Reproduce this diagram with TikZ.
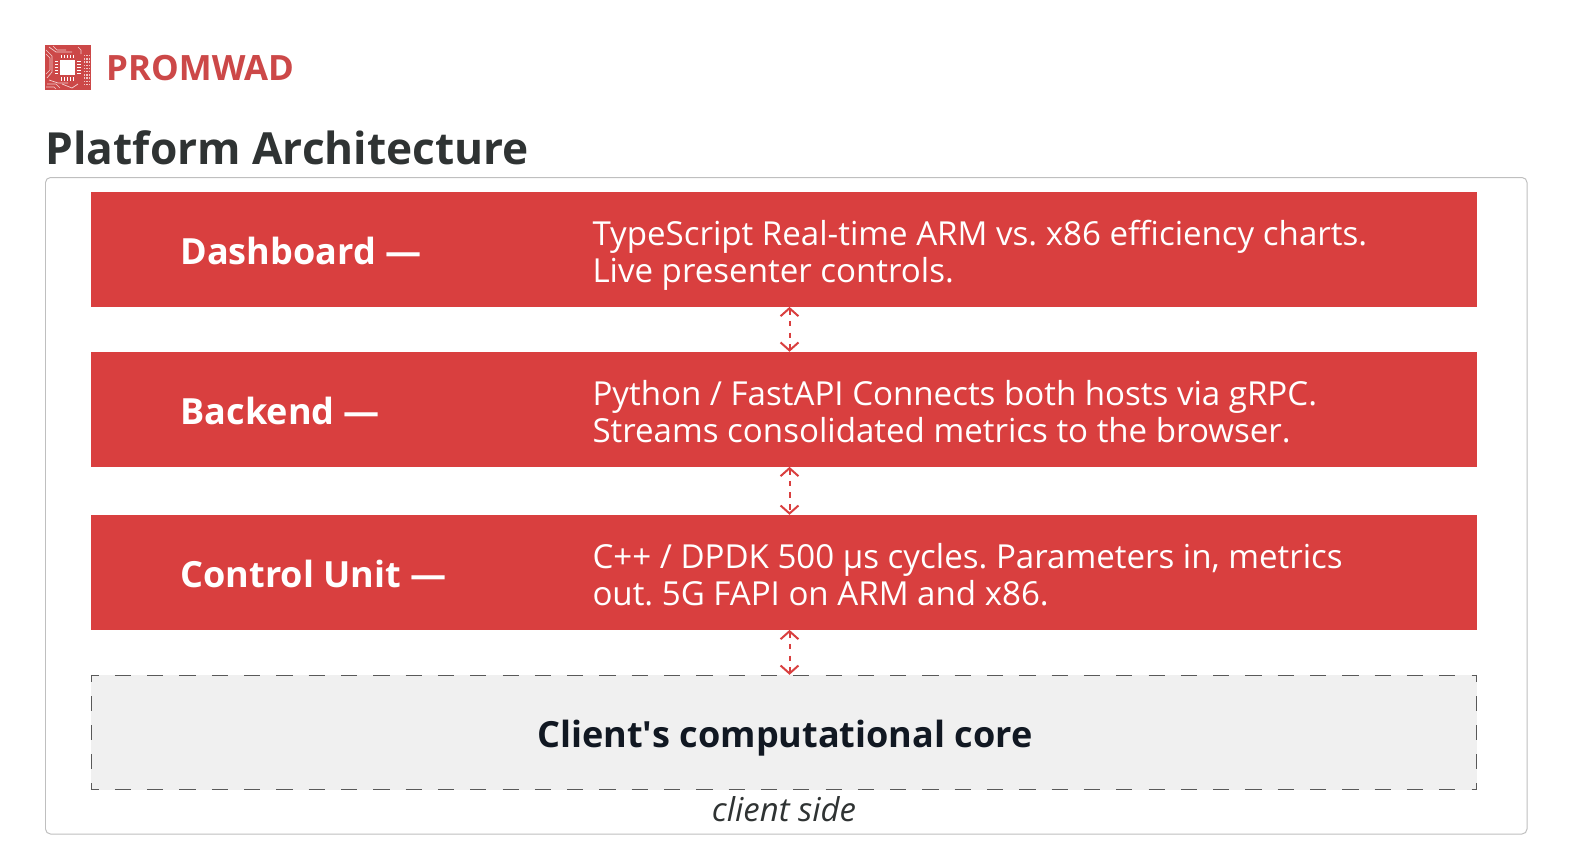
\documentclass[tikz,border=0pt]{standalone}
\usepackage{fontspec}
\setmainfont{Open Sans}
\usetikzlibrary{calc}
\usetikzlibrary{arrows, arrows.meta}

\definecolor{barred}{HTML}{D93F3F}
\definecolor{logored}{HTML}{CC4848}
\definecolor{inkdark}{HTML}{2F3333}
\definecolor{inkcore}{HTML}{111822}

\tikzset{
	bar/.style={fill=barred, minimum width=1386bp, minimum height=114.7bp, inner sep=0pt},
	barhead/.style={anchor=west, inner sep=0pt, text=white, font=\fontsize{36.2}{37}\selectfont\bfseries},
	bartext/.style={anchor=west, inner sep=0pt, text=white, align=left, font=\fontsize{33.2}{37.2}\selectfont},
	link/.style={barred, line width=2pt, dash pattern=on 5.5pt off 6.2pt, {Straight Barb[length=8pt,width=18pt,line width=2pt]}-{Straight Barb[length=8pt,width=18pt,line width=2pt]}},
	hedge/.style={draw=black!65, line width=1.3pt, dash pattern=on 16.2bp off 16.1bp, dash phase=8.2bp},
	vedge/.style={draw=black!65, line width=1.3pt, dash pattern=on 14.5bp off 14.5bp, dash phase=7.5bp},
	trace/.style={white!75!logored, line width=0.7pt},
}

\begin{document}
\frenchspacing
\begin{tikzpicture}[x=1bp,y=-1bp]
	\useasboundingbox (0,0) rectangle (1580,850);
	
	%logo
	\fill[logored] (45,45) rectangle (91,90);
	\fill[white] (60,60) rectangle (75,75);
	\foreach \x in {0,...,4} {
	\fill[white] (60.5+\x*3,54.5) rectangle +(1.5,3.5);		%top pins
	\fill[white] (60.5+\x*3,77) rectangle +(1.5,3.5);		%bottom pins
	\fill[white] (54.5,60.5+\x*3) rectangle +(3.5,1.5);		%left pins
	\fill[white] (77,60.5+\x*3) rectangle +(3.5,1.5);		%right pins
	}
	\foreach \x in {0,...,2}
	\foreach \y in {0,...,9}
	\fill[white!70!logored] (83.5+\x*2.8,55+\y*3.2) rectangle +(1.3,1.3);		%dots on the right
	\draw[trace] (46,50)--(52,56)--(52,72)--(47,78);
	\draw[trace] (46,54)--(50,58)--(50,70)--(46,74);
	\draw[trace] (49,47)--(56,52)--(72,52);
	\draw[trace] (53,46)--(57,50)--(66,50);
	\draw[trace] (47,84)--(56,84)--(60,88);
	\draw[trace] (46,87)--(54,87)--(56,89);
	\draw[trace] (62,84)--(72,88)--(78,84);
	\draw[trace] (49,80)--(58,83)--(68,83);
	\draw[trace] (78,47)--(81,50)--(81,54);
	\node[anchor=west, inner sep=0pt, text=logored, font=\fontsize{35}{37}\selectfont\bfseries] (brand) at (106,68.2) {PROMWAD};
	
	%title and frame
	\node[anchor=west, inner sep=0pt, text=inkdark, font=\fontsize{44.4}{48}\selectfont\bfseries] (title) at (45.5,148) {Platform Architecture};
	\draw[black!25, line width=1pt, rounded corners=5bp] (45.5,177.5) rectangle (1527,834);
	
	%bars
	\node[bar] (dash) at (784,249.35) {};
	\node[bar] (back) at (784,409.3) {};
	\node[bar] (ctrl) at (784,572.35) {};
	\node[fill=black!6, minimum width=1386bp, minimum height=114.7bp, inner sep=0pt] (core) at (784,732.35) {};
	
	%labels
	\node[barhead] (dashhead) at (180.3,250.8) {Dashboard —};
	\node[barhead] (backhead) at (180.3,410.5) {Backend —};
	\node[barhead] (ctrlhead) at (180.3,573.8) {Control Unit —};
	\node[bartext] (dashtext) at (592.3,255) {TypeScript Real-time ARM vs. x86 efficiency charts.\\Live presenter controls.};
	\node[bartext] (backtext) at (592.3,411.9) {Python / FastAPI Connects both hosts via gRPC.\\Streams consolidated metrics to the browser.};
	\node[bartext] (ctrltext) at (592.3,574.9) {C++ / DPDK 500 µs cycles. Parameters in, metrics\\out. 5G FAPI on ARM and x86.};
	\node[inner sep=0pt, text=inkcore, font=\fontsize{36.2}{37}\selectfont\bfseries] (corehead) at (785,738.2) {Client\textquotesingle s computational core};
	\node[inner sep=0pt, text=inkdark, font=\fontsize{33}{37}\selectfont\itshape] (side) at (784,809) {client side};
	
	%core outline, kept inside the fill
	\draw[hedge] ($(core.north west)+(0,0.65)$)--($(core.north east)+(0,0.65)$);
	\draw[hedge] ($(core.south west)+(0,-0.65)$)--($(core.south east)+(0,-0.65)$);
	\draw[vedge] ($(core.north west)+(0.65,0)$)--($(core.south west)+(0.65,0)$);
	\draw[vedge] ($(core.north east)+(-0.65,0)$)--($(core.south east)+(-0.65,0)$);
	
	%links
	\draw[link] ($(dash.south)+(5.5,0)$)--($(back.north)+(5.5,0)$);
	\draw[link] ($(back.south)+(5.5,0)$)--($(ctrl.north)+(5.5,0)$);
	\draw[link] ($(ctrl.south)+(5.5,0)$)--($(core.north)+(5.5,0)$);
\end{tikzpicture}
\end{document}
